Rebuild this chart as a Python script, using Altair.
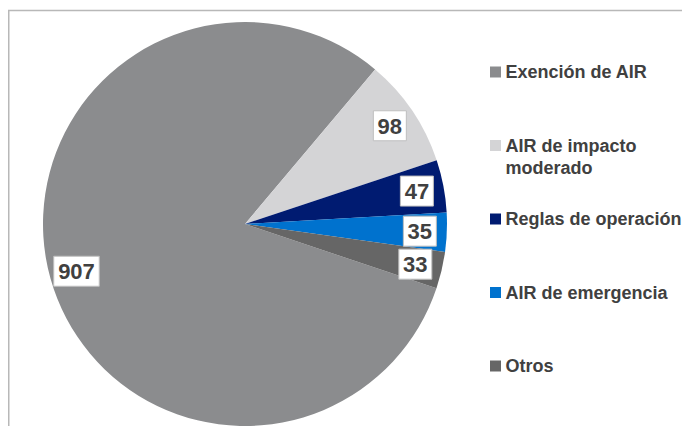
import math
import altair as alt
import pandas as pd

categories = ["Exención de AIR", "AIR de impacto moderado", "Reglas de operación",
              "AIR de emergencia", "Otros"]
values = [907, 98, 47, 35, 33]
pie_order = [4, 0, 1, 2, 3]
colors = ["#8B8C8E", "#D4D4D6", "#001B71", "#0072CE", "#666666"]

df = pd.DataFrame({"cat": categories, "val": values, "po": pie_order,
                   "lo": list(range(len(categories)))})

CX, CY, R, LR = 237, 216, 202, 175
START = 0.70
TAU = 2 * math.pi
FONT = "Liberation Sans"
TXT = "#404040"

color = alt.Color("cat:N", scale=alt.Scale(domain=categories, range=colors), legend=None)

base = alt.Chart(df)

pie = base.mark_arc(outerRadius=R).encode(
    theta=alt.Theta("val:Q", stack=True, scale=alt.Scale(range=[START, START + TAU])),
    order=alt.Order("po:Q"),
    color=color,
    x=alt.value(CX),
    y=alt.value(CY),
)

lab = base.transform_joinaggregate(total="sum(val)").transform_window(
    cum="sum(val)", sort=[alt.SortField("po")], frame=[None, 0]
).transform_calculate(
    mid=f"{START} + 2*PI*(datum.cum - datum.val/2)/datum.total",
    txt="format(datum.val, 'd')",
).transform_calculate(
    px=f"{CX} + {LR}*sin(datum.mid)",
    py=f"{CY} - {LR}*cos(datum.mid)",
    w="8 + 12.5*length(datum.txt)",
).transform_calculate(
    x1="datum.px - datum.w/2", x2="datum.px + datum.w/2",
    y1="datum.py - 15", y2="datum.py + 15",
)

boxes = lab.mark_rect(fill="white", stroke="#BFBFBF", strokeWidth=1).encode(
    x=alt.X("x1:Q", scale=None), x2="x2:Q",
    y=alt.Y("y1:Q", scale=None), y2="y2:Q",
)
labels = lab.mark_text(font=FONT, fontSize=22, fontWeight="bold", color=TXT,
                       align="center", baseline="middle", dy=1).encode(
    x=alt.X("px:Q", scale=None), y=alt.Y("py:Q", scale=None), text="txt:N"
)

leg = base.transform_calculate(
    ly="64 + datum.lo*73.5",
    lab="replace(datum.cat, 'impacto ', 'impacto\\n')",
)
leg_sq = leg.mark_square(size=121, opacity=1).encode(
    x=alt.value(487.5), y=alt.Y("ly:Q", scale=None), color=color
)
leg_tx = leg.mark_text(font=FONT, fontSize=18, fontWeight="bold", color=TXT,
                       align="left", baseline="alphabetic", dy=6,
                       lineBreak="\n", lineHeight=22).encode(
    x=alt.value(497.5), y=alt.Y("ly:Q", scale=None), text="lab:N"
)

one = alt.Chart(pd.DataFrame({"a": [0]}))
top_line = one.mark_rule(color="#B8B8B8", strokeWidth=1.5).encode(
    x=alt.value(0), x2=alt.value(700), y=alt.value(2.5))
left_line = one.mark_rule(color="#B8B8B8", strokeWidth=1.5).encode(
    x=alt.value(0.75), y=alt.value(2), y2=alt.value(500))

chart = alt.layer(top_line, left_line, pie, boxes, labels, leg_sq, leg_tx).properties(
    width=674, height=418,
    autosize=alt.AutoSizeParams(type="none"),
    padding=0,
).configure_view(stroke=None)

chart.save("out.html", embed_options={"renderer": "svg", "actions": False})
